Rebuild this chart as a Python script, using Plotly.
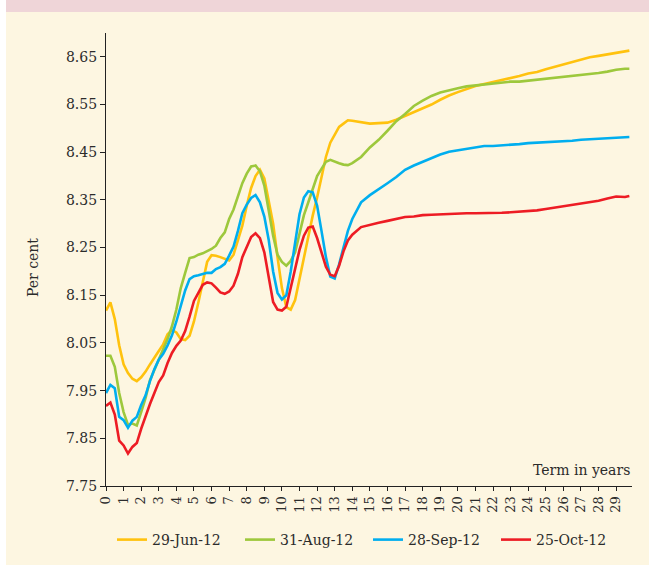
import plotly.graph_objects as go

terms = [0, 0.25, 0.5, 0.75, 1, 1.25, 1.5, 1.75, 2, 2.25, 2.5, 2.75, 3, 3.25, 3.5, 3.75,
         4, 4.25, 4.5, 4.75, 5, 5.25, 5.5, 5.75, 6, 6.25, 6.5, 6.75, 7, 7.25, 7.5, 7.75,
         8, 8.25, 8.5, 8.75, 9, 9.25, 9.5, 9.75, 10, 10.25, 10.5, 10.75, 11, 11.25, 11.5, 11.75,
         12, 12.25, 12.5, 12.75, 13, 13.25, 13.5, 13.75, 14, 14.5, 15, 15.5, 16, 16.5, 17, 17.5,
         18, 18.5, 19, 19.5, 20, 20.5, 21, 21.5, 22, 22.5, 23, 23.5, 24, 24.5, 25, 25.5,
         26, 26.5, 27, 27.5, 28, 28.5, 29, 29.5, 29.75]

jun12 = [8.118, 8.135, 8.100, 8.045, 8.005, 7.987, 7.975, 7.970, 7.978, 7.990, 8.005, 8.018, 8.033, 8.047, 8.068, 8.077,
         8.072, 8.058, 8.056, 8.065, 8.095, 8.135, 8.178, 8.220, 8.234, 8.233, 8.230, 8.226, 8.223, 8.235, 8.268, 8.296,
         8.338, 8.375, 8.400, 8.413, 8.395, 8.350, 8.300, 8.230, 8.165, 8.125, 8.120, 8.140, 8.185, 8.230, 8.270, 8.317,
         8.355, 8.400, 8.440, 8.470, 8.487, 8.503, 8.510, 8.517, 8.516, 8.513, 8.510, 8.511, 8.512, 8.518, 8.526, 8.535,
         8.543, 8.550, 8.560, 8.569, 8.576, 8.583, 8.589, 8.593, 8.597, 8.602, 8.606, 8.610, 8.615, 8.618, 8.624, 8.629,
         8.633, 8.638, 8.644, 8.649, 8.652, 8.655, 8.659, 8.662, 8.663]

aug12 = [8.023, 8.023, 8.000, 7.945, 7.905, 7.878, 7.881, 7.877, 7.905, 7.935, 7.972, 7.995, 8.015, 8.037, 8.058, 8.085,
         8.120, 8.165, 8.197, 8.228, 8.230, 8.235, 8.238, 8.242, 8.247, 8.254, 8.270, 8.282, 8.310, 8.330, 8.360, 8.385,
         8.405, 8.420, 8.422, 8.410, 8.380, 8.328, 8.275, 8.235, 8.220, 8.212, 8.222, 8.240, 8.280, 8.318, 8.345, 8.375,
         8.400, 8.415, 8.430, 8.434, 8.430, 8.427, 8.424, 8.423, 8.427, 8.440, 8.460, 8.476, 8.495, 8.515, 8.530, 8.547,
         8.558, 8.568, 8.575, 8.580, 8.584, 8.588, 8.590, 8.592, 8.595, 8.596, 8.598, 8.598, 8.600, 8.602, 8.604, 8.605,
         8.607, 8.609, 8.612, 8.614, 8.616, 8.619, 8.623, 8.625, 8.625]

sep12 = [7.945, 7.962, 7.955, 7.895, 7.888, 7.872, 7.887, 7.895, 7.920, 7.940, 7.970, 7.995, 8.015, 8.027, 8.045, 8.066,
         8.095, 8.125, 8.160, 8.184, 8.190, 8.192, 8.195, 8.197, 8.197, 8.205, 8.209, 8.216, 8.233, 8.252, 8.285, 8.322,
         8.340, 8.354, 8.360, 8.345, 8.315, 8.266, 8.200, 8.155, 8.141, 8.150, 8.200, 8.265, 8.320, 8.355, 8.368, 8.366,
         8.338, 8.285, 8.230, 8.189, 8.185, 8.215, 8.250, 8.285, 8.310, 8.345, 8.360, 8.372, 8.385, 8.398, 8.413, 8.422,
         8.430, 8.438, 8.445, 8.451, 8.454, 8.457, 8.461, 8.463, 8.463, 8.464, 8.466, 8.467, 8.469, 8.470, 8.470, 8.471,
         8.472, 8.474, 8.476, 8.477, 8.478, 8.480, 8.481, 8.482, 8.482]

oct12 = [7.918, 7.925, 7.900, 7.845, 7.835, 7.818, 7.832, 7.840, 7.870, 7.897, 7.922, 7.945, 7.968, 7.982, 8.008, 8.029,
         8.044, 8.055, 8.075, 8.105, 8.138, 8.155, 8.172, 8.177, 8.175, 8.166, 8.156, 8.153, 8.158, 8.170, 8.195, 8.230,
         8.252, 8.272, 8.280, 8.270, 8.240, 8.189, 8.136, 8.120, 8.118, 8.126, 8.165, 8.200, 8.245, 8.275, 8.292, 8.294,
         8.270, 8.240, 8.210, 8.193, 8.190, 8.212, 8.242, 8.265, 8.277, 8.293, 8.298, 8.302, 8.306, 8.310, 8.314, 8.315,
         8.318, 8.319, 8.320, 8.320, 8.321, 8.322, 8.322, 8.322, 8.323, 8.323, 8.324, 8.325, 8.327, 8.328, 8.331, 8.334,
         8.336, 8.339, 8.343, 8.345, 8.348, 8.353, 8.357, 8.356, 8.358]

series_names = ["29-Jun-12", "31-Aug-12", "28-Sep-12", "25-Oct-12"]
series_values = [jun12, aug12, sep12, oct12]
series_colors = ["#ffc20e", "#9dc83c", "#00aeef", "#ed1c24"]

y_ticks = [7.75, 7.85, 7.95, 8.05, 8.15, 8.25, 8.35, 8.45, 8.55, 8.65]
x_ticks = list(range(0, 30))

FONT = "DejaVu Serif"
TXT = "#2b2b2b"

fig = go.Figure()
for name, vals, col in zip(series_names, series_values, series_colors):
    fig.add_trace(go.Scatter(x=terms, y=vals, mode="lines", name=name,
                             line=dict(color=col, width=2.6)))

W, H = 649, 565
L, R, T, B = 106, 17, 33, 79
pw, ph = W - L - R, H - T - B

def px_x(p):
    return (p - L) / pw

def px_y(p):
    return (H - B - p) / ph

fig.update_layout(
    width=W, height=H,
    margin=dict(l=L, r=R, t=T, b=B, autoexpand=False),
    paper_bgcolor="white",
    plot_bgcolor="rgba(0,0,0,0)",
    font=dict(family=FONT, size=14, color=TXT),
    showlegend=True,
    legend=dict(orientation="h", x=px_x(112), xanchor="left", y=px_y(540), yanchor="middle",
                bgcolor="rgba(0,0,0,0)", font=dict(size=14, color=TXT, family=FONT),
                entrywidth=83, entrywidthmode="pixels", itemwidth=30, tracegroupgap=0),
    xaxis=dict(range=[0, 29.9], tickmode="array", tickvals=x_ticks,
               ticktext=[str(v) for v in x_ticks], tickangle=-90,
               showgrid=False, zeroline=False, showline=True, linecolor="#222", linewidth=1.2,
               ticks="outside", ticklen=4, tickcolor="#222",
               tickfont=dict(size=13, family=FONT, color=TXT)),
    yaxis=dict(range=[7.75, 8.70], tickmode="array", tickvals=y_ticks,
               ticktext=[f"{v:.2f}" for v in y_ticks],
               showgrid=False, zeroline=False, showline=True, linecolor="#222", linewidth=1.2,
               ticks="outside", ticklen=5, tickcolor="#222",
               tickfont=dict(size=14, family=FONT, color=TXT)),
    shapes=[
        dict(type="rect", xref="paper", yref="paper", x0=px_x(6), x1=px_x(W + 2),
             y0=px_y(H + 2), y1=px_y(12), fillcolor="#fdf6e1", line=dict(width=0), layer="below"),
        dict(type="rect", xref="paper", yref="paper", x0=px_x(6), x1=px_x(W + 2),
             y0=px_y(12), y1=px_y(-2), fillcolor="#efd5d8", line=dict(width=0), layer="below"),
    ],
    annotations=[
        dict(text="Per cent", xref="paper", yref="paper", x=px_x(33), y=px_y(268),
             textangle=-90, showarrow=False, xanchor="center", yanchor="middle",
             font=dict(size=14, family=FONT, color=TXT)),
        dict(text="Term in years", xref="paper", yref="paper", x=1.0, y=px_y(470),
             showarrow=False, xanchor="right", yanchor="middle",
             font=dict(size=14, family=FONT, color=TXT)),
    ],
)

fig.write_html("out.html", config={"displayModeBar": False},
               post_script="document.body.style.margin='0';document.body.style.overflow='hidden';")
